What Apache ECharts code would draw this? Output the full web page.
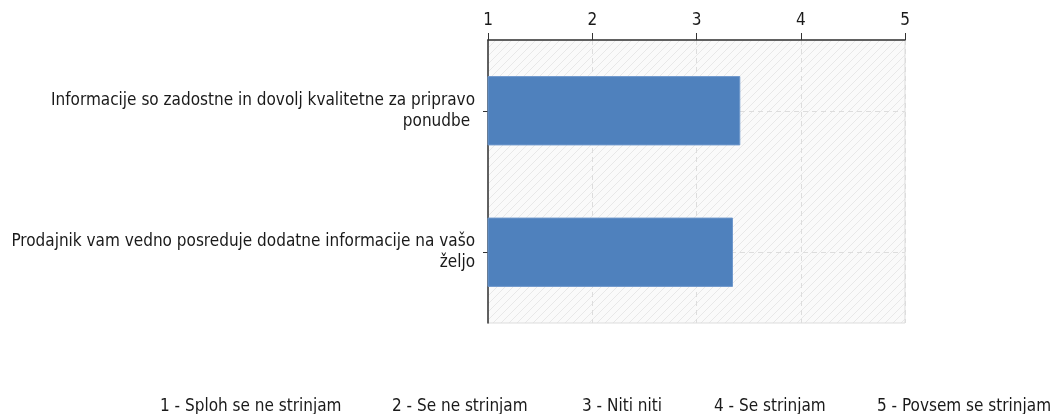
<!DOCTYPE html>
<html>
<head>
<meta charset="utf-8">
<script src="https://cdn.jsdelivr.net/npm/echarts@6/dist/echarts.min.js"></script>
<style>
  html, body { margin: 0; padding: 0; background: #fff; }
  #chart { width: 1054px; height: 414px; }
</style>
</head>
<body>
<div id="chart"></div>
<script>
// Survey statements and their mean scores on a 1–5 scale
const categories = [
  'Informacije so zadostne in dovolj kvalitetne za pripravo ponudbe ',
  'Prodajnik vam vedno posreduje dodatne informacije na vašo željo'
];
const scores = [3.42, 3.35];
const scaleTicks = [1, 2, 3, 4, 5];
const scaleLegend = [
  '1 - Sploh se ne strinjam',
  '2 - Se ne strinjam',
  '3 - Niti niti',
  '4 - Se strinjam',
  '5 - Povsem se strinjam'
];

// Layout of the scale legend row along the bottom
const legendX = [160, 392, 582, 714, 877];
const legendY = 408;
const FONT = '"DejaVu Sans Condensed", "DejaVu Sans", sans-serif';
const FS = 17;

// Light diagonal hatch used as plot background
function hatchPattern() {
  const c = document.createElement('canvas');
  c.width = 8; c.height = 8;
  const g = c.getContext('2d');
  g.fillStyle = '#fafafa';
  g.fillRect(0, 0, 8, 8);
  g.strokeStyle = '#e8e8e8';
  g.lineWidth = 1;
  g.beginPath();
  g.moveTo(0, 8); g.lineTo(8, 0);
  g.moveTo(-4, 4); g.lineTo(4, -4);
  g.moveTo(4, 12); g.lineTo(12, 4);
  g.stroke();
  return c;
}

const chart = echarts.init(document.getElementById('chart'), null, { renderer: 'canvas' });

chart.setOption({
  animation: false,
  textStyle: { fontFamily: FONT },
  grid: {
    left: 488, right: 149, top: 40, bottom: 91,
    show: true,
    backgroundColor: { image: hatchPattern(), repeat: 'repeat' },
    borderColor: '#dddddd',
    borderWidth: 1
  },
  xAxis: {
    type: 'value',
    position: 'top',
    min: scaleTicks[0],
    max: scaleTicks[scaleTicks.length - 1],
    interval: 1,
    axisLine: { show: true, lineStyle: { color: '#333', width: 1.5 } },
    axisTick: { show: true, length: 7, lineStyle: { color: '#333' } },
    axisLabel: { color: '#1a1a1a', fontSize: FS, fontFamily: FONT, margin: 11 },
    splitLine: { show: true, lineStyle: { color: '#dddddd', type: [5, 4] } }
  },
  yAxis: {
    type: 'category',
    inverse: true,
    data: categories,
    axisLine: { show: true, lineStyle: { color: '#333', width: 1.5 } },
    axisTick: { show: true, alignWithLabel: true, length: 5, lineStyle: { color: '#333' } },
    axisLabel: {
      color: '#1a1a1a', fontSize: FS, fontFamily: FONT, margin: 13, lineHeight: 21,
      align: 'right',
      formatter: v => v.replace(/ (\S+\s*)$/, '\n$1')
    },
    splitLine: { show: false }
  },
  series: [{
    type: 'bar',
    data: scores,
    barWidth: '49%',
    itemStyle: { color: '#4f81bd', borderColor: '#6f98cc', borderWidth: 1 },
    markLine: {
      silent: true,
      z: 1,
      symbol: 'none',
      label: { show: false },
      lineStyle: { color: '#dddddd', type: [5, 4], width: 1 },
      data: categories.map(c => ({ yAxis: c }))
    }
  }],
  graphic: scaleLegend.map((t, i) => ({
    type: 'text',
    left: legendX[i],
    top: legendY - 10,
    style: { text: t, fill: '#1a1a1a', font: FS + 'px ' + FONT }
  }))
});
</script>
</body>
</html>
